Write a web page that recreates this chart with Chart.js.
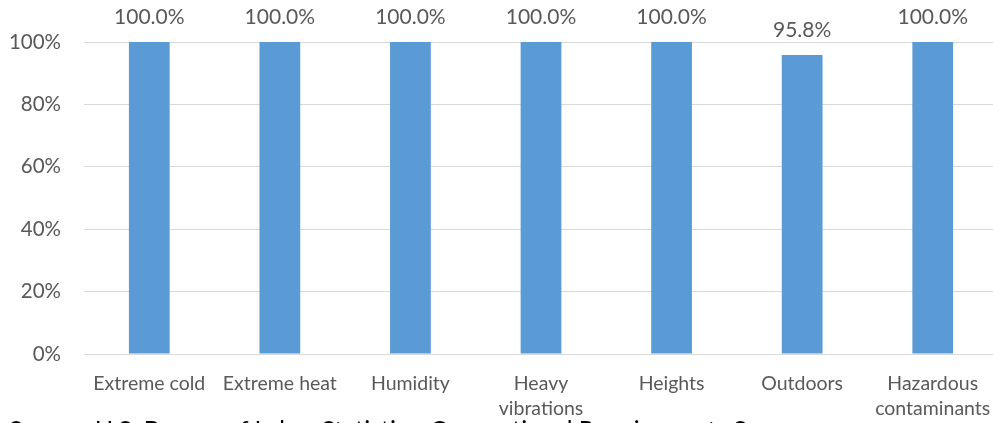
<!DOCTYPE html>
<html>
<head>
<meta charset="utf-8">
<script src="https://cdn.jsdelivr.net/npm/chart.js@4/dist/chart.umd.min.js"></script>
<style>
  html, body { margin: 0; padding: 0; background: #fff; overflow: hidden; }
  #wrap { position: relative; width: 993px; height: 423px; overflow: hidden; }
  #chart { position: absolute; left: 0; top: 0; }
  #source {
    position: absolute; left: 9px; top: 415px; white-space: nowrap;
    font-family: Lato, "Liberation Sans", sans-serif; font-size: 24.5px; color: #000;
  }
</style>
</head>
<body>
<div id="wrap">
  <canvas id="chart" width="1000" height="423"></canvas>
  <div id="source">Source: U.S. Bureau of Labor Statistics, Occupational Requirements Survey</div>
</div>
<script>
// Share of jobs exposed to each environmental condition
const categories = [
  'Extreme cold',
  'Extreme heat',
  'Humidity',
  ['Heavy', 'vibrations'],
  'Heights',
  'Outdoors',
  ['Hazardous', 'contaminants']
];
const shares = [100.0, 100.0, 100.0, 100.0, 100.0, 95.8, 100.0];
const yTicks = [0, 20, 40, 60, 80, 100];

const FONT = 'Lato, "Liberation Sans", sans-serif';
const GREY = '#595959';

// Writes the value above every bar
const valueLabels = {
  id: 'valueLabels',
  afterDatasetsDraw(chart) {
    const ctx = chart.ctx;
    const meta = chart.getDatasetMeta(0);
    ctx.save();
    ctx.font = '21px ' + FONT;
    ctx.fillStyle = GREY;
    ctx.textAlign = 'center';
    ctx.textBaseline = 'alphabetic';
    meta.data.forEach((bar, i) => {
      ctx.fillText(shares[i].toFixed(1) + '%', bar.x, bar.y - 18);
    });
    ctx.restore();
  }
};

new Chart(document.getElementById('chart'), {
  type: 'bar',
  data: {
    labels: categories,
    datasets: [{
      data: shares,
      backgroundColor: '#5B9BD5',
      borderWidth: 0,
      barPercentage: 0.624,
      categoryPercentage: 0.5
    }]
  },
  options: {
    responsive: false,
    animation: false,
    layout: { padding: { top: 42, right: 2, left: 0, bottom: 0 } },
    plugins: { legend: { display: false }, tooltip: { enabled: false } },
    scales: {
      x: {
        grid: { display: false, drawTicks: false },
        border: { display: false },
        ticks: {
          color: GREY, font: { family: FONT, size: 19.5, lineHeight: 1.25 },
          padding: 18, maxRotation: 0, autoSkip: false
        },
        afterFit(scale) {
          scale.height = 69;
          // labels fit inside their categories, so no side padding is needed
          scale.paddingLeft = 0;
          scale.paddingRight = 0;
        }
      },
      y: {
        min: 0, max: 100,
        afterBuildTicks(scale) { scale.ticks = yTicks.map(v => ({ value: v })); },
        grid: { color: '#d9d9d9', lineWidth: 1, drawTicks: false },
        border: { display: false },
        ticks: {
          color: GREY, font: { family: FONT, size: 20.5 }, padding: 23,
          callback: v => v + '%'
        },
        afterFit(scale) { scale.width = 84; }
      }
    }
  },
  plugins: [valueLabels]
});
</script>
</body>
</html>
